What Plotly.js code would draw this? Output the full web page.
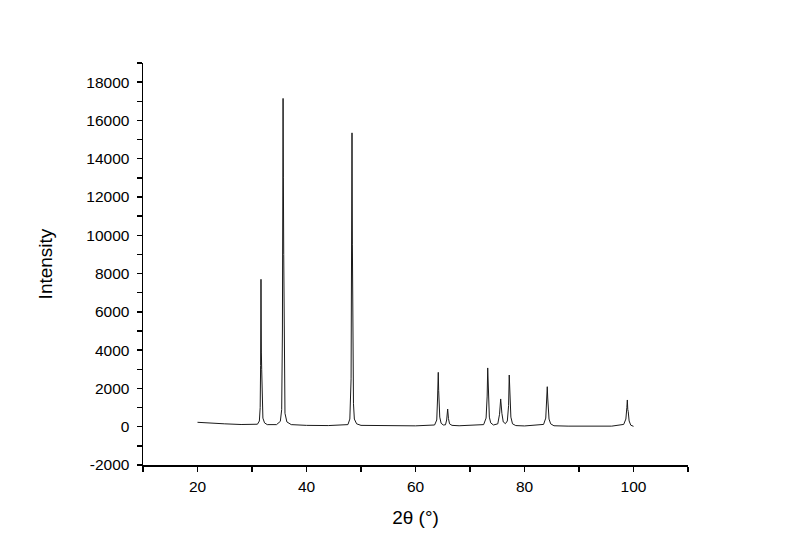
<!DOCTYPE html>
<html>
<head>
<meta charset="utf-8">
<script src="https://cdn.plot.ly/plotly-3.0.1.min.js"></script>
<style>html,body{margin:0;padding:0;background:#fff}#chart{width:800px;height:558px}</style>
</head>
<body>
<div id="chart"></div>
<script>
// 2θ positions (degrees)
var twoTheta = [
  20, 22, 25, 28, 30, 31.0, 31.35, 31.5, 31.58, 31.65, 31.72, 31.78, 31.88, 32.0, 32.3, 32.8,
  34.5, 35.2, 35.45, 35.58, 35.65, 35.7, 35.76, 35.82, 35.92, 36.05, 36.4, 37.2,
  40, 44, 47.6, 47.95, 48.18, 48.28, 48.35, 48.42, 48.5, 48.62, 48.78, 49.2, 50,
  55, 60, 63.5, 63.9, 64.05, 64.18, 64.25, 64.32, 64.45, 64.7, 65.1,
  65.5, 65.72, 65.9, 65.98, 66.05, 66.25, 66.7, 68,
  72.5, 72.95, 73.15, 73.25, 73.32, 73.4, 73.55, 73.8, 74.3,
  75.1, 75.42, 75.63, 75.72, 75.85, 76.1, 76.5,
  76.85, 77.08, 77.2, 77.28, 77.36, 77.5, 77.8, 78.4,
  80, 83.5, 83.9, 84.08, 84.18, 84.26, 84.34, 84.5, 84.8, 85.4,
  88, 92, 96, 98.2, 98.6, 98.78, 98.87, 98.95, 99.03, 99.2, 99.5, 100
];
// Intensity (counts)
var intensity = [
  230, 190, 150, 115, 100, 130, 300, 1000, 3200, 7700, 3900, 3000, 900, 450, 200, 110,
  110, 280, 900, 5000, 12000, 17150, 13000, 9000, 2000, 700, 250, 110,
  70, 60, 110, 400, 2500, 8000, 15350, 9500, 6500, 1200, 400, 150, 70,
  50, 45, 90, 350, 1500, 2840, 1900, 1500, 500, 180, 90,
  100, 350, 925, 620, 420, 150, 70, 50,
  110, 450, 1600, 3070, 2100, 1700, 500, 200, 90,
  150, 650, 1450, 1000, 700, 250, 160,
  300, 1100, 2700, 1900, 1500, 500, 150, 60,
  40, 120, 450, 1300, 2090, 1500, 1200, 400, 150, 50,
  30, 25, 30, 120, 400, 1000, 1397, 900, 800, 300, 80, 20
];
// Axis ticks and labels
var xTickVals = [10, 20, 30, 40, 50, 60, 70, 80, 90, 100, 110];
var xTickText = ['', '20', '', '40', '', '60', '', '80', '', '100', ''];
var yTickVals = [-2000, -1000, 0, 1000, 2000, 3000, 4000, 5000, 6000, 7000, 8000, 9000,
  10000, 11000, 12000, 13000, 14000, 15000, 16000, 17000, 18000, 19000];
var yTickText = ['-2000', '', '0', '', '2000', '', '4000', '', '6000', '', '8000', '',
  '10000', '', '12000', '', '14000', '', '16000', '', '18000', ''];

var trace = {
  x: twoTheta,
  y: intensity,
  type: 'scatter',
  mode: 'lines',
  line: {color: '#1a1a1a', width: 1},
  hoverinfo: 'x+y'
};

var fontFam = '"Liberation Sans", Arial, sans-serif';
var layout = {
  width: 800,
  height: 558,
  paper_bgcolor: '#ffffff',
  plot_bgcolor: '#ffffff',
  showlegend: false,
  margin: {l: 143, r: 112, t: 63, b: 93},
  font: {family: fontFam, color: '#000000'},
  xaxis: {
    range: [10, 110],
    tickmode: 'array',
    tickvals: xTickVals,
    ticktext: xTickText,
    ticks: 'outside',
    ticklen: 5,
    tickwidth: 1.3,
    tickcolor: '#000',
    ticklabelstandoff: 2,
    showline: true,
    linecolor: '#000',
    linewidth: 1.5,
    showgrid: false,
    zeroline: false,
    tickfont: {size: 15.5, family: fontFam, color: '#000'},
    title: {text: '2θ (°)', font: {size: 19, family: fontFam, color: '#000'}, standoff: 16}
  },
  yaxis: {
    range: [-2000, 19000],
    tickmode: 'array',
    tickvals: yTickVals,
    ticktext: yTickText,
    ticks: 'outside',
    ticklen: 5,
    tickwidth: 1.3,
    tickcolor: '#000',
    ticklabelstandoff: 4,
    showline: true,
    linecolor: '#000',
    linewidth: 1.5,
    showgrid: false,
    zeroline: false,
    tickfont: {size: 15.5, family: fontFam, color: '#000'},
    title: {text: 'Intensity', font: {size: 19, family: fontFam, color: '#000'}, standoff: 28}
  }
};

Plotly.newPlot('chart', [trace], layout, {displayModeBar: false, staticPlot: true});
</script>
</body>
</html>
